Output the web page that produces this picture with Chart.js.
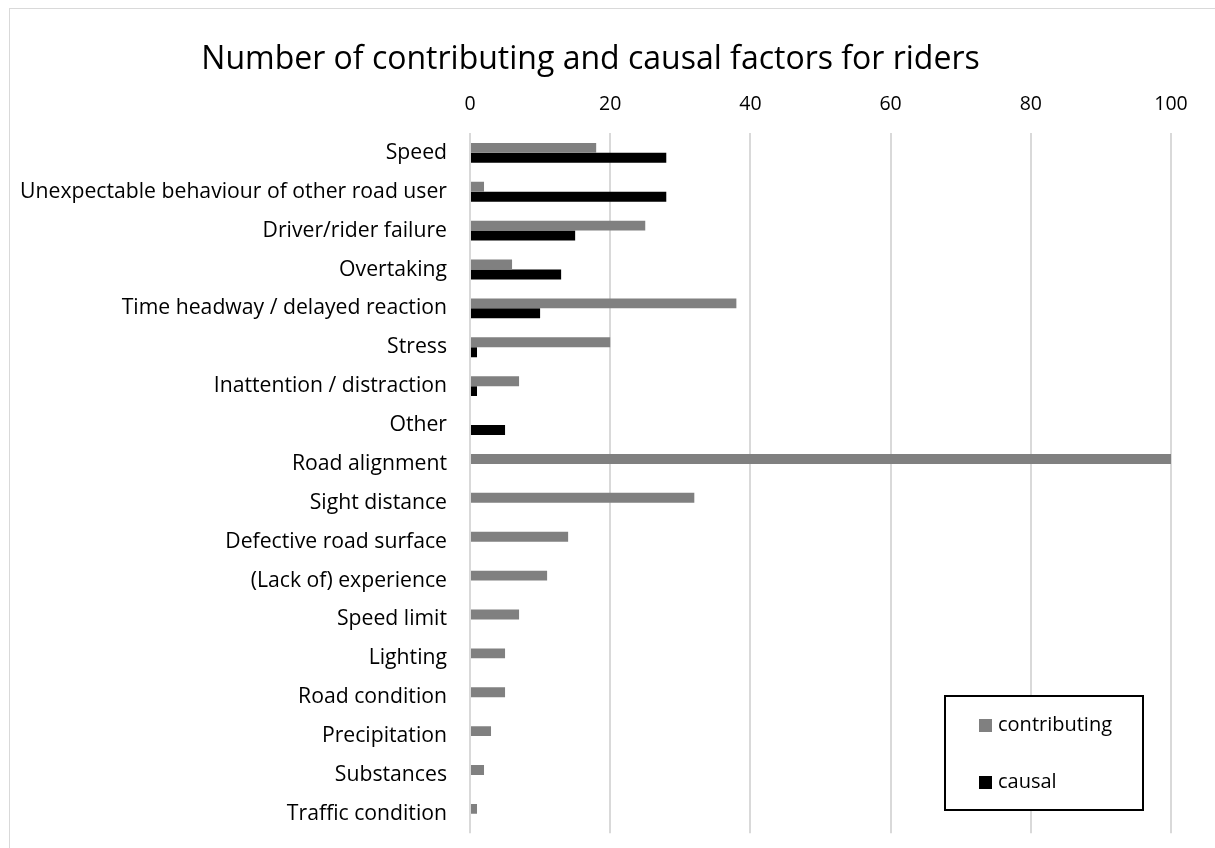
<!doctype html>
<html>

<head>
	<title>Contributing and causal factors for riders</title>
	<script src="https://cdn.jsdelivr.net/npm/chart.js@4/dist/chart.umd.min.js"></script>
	<style>
		html, body {
			margin: 0;
			padding: 0;
			background: #fff;
			overflow: hidden;
		}
		#frame {
			position: absolute;
			left: 9px;
			top: 8px;
			width: 1230px;
			height: 860px;
			border: 1px solid #d9d9d9;
		}
	</style>
</head>

<body>
	<div id="frame">
		<canvas id="canvas" width="1230" height="860"></canvas>
	</div>
	<script>
		const labels = [
			'Speed',
			'Unexpectable behaviour of other road user',
			'Driver/rider failure',
			'Overtaking',
			'Time headway / delayed reaction',
			'Stress',
			'Inattention / distraction',
			'Other',
			'Road alignment',
			'Sight distance',
			'Defective road surface',
			'(Lack of) experience',
			'Speed limit',
			'Lighting',
			'Road condition',
			'Precipitation',
			'Substances',
			'Traffic condition'
		];
		const contributing = [18, 2, 25, 6, 38, 20, 7, 0, 100, 32, 14, 11, 7, 5, 5, 3, 2, 1];
		const causal = [28, 28, 15, 13, 10, 1, 1, 5, 0, 0, 0, 0, 0, 0, 0, 0, 0, 0];
		const xTicks = [0, 20, 40, 60, 80, 100];

		const FONT = '"Open Sans", sans-serif';

		// legend box drawn inside the plot, like the original
		const boxLegend = {
			id: 'boxLegend',
			afterDraw(chart) {
				const ctx = chart.ctx;
				const x = 935, y = 687, w = 198, h = 114;
				ctx.save();
				ctx.fillStyle = '#fff';
				ctx.fillRect(x, y, w, h);
				ctx.strokeStyle = '#000';
				ctx.lineWidth = 2;
				ctx.strokeRect(x, y, w, h);
				ctx.font = '20px ' + FONT;
				ctx.textBaseline = 'middle';
				chart.data.datasets.forEach((ds, i) => {
					const sy = y + 23 + i * 57;
					ctx.fillStyle = ds.backgroundColor;
					ctx.fillRect(x + 34, sy, 13, 13);
					ctx.fillStyle = '#000';
					ctx.fillText(ds.label, x + 53, sy + 6);
				});
				ctx.restore();
			}
		};

		const config = {
			type: 'bar',
			data: {
				labels: labels,
				datasets: [{
					label: 'contributing',
					data: contributing,
					backgroundColor: '#808080'
				}, {
					label: 'causal',
					data: causal,
					backgroundColor: '#000000'
				}]
			},
			options: {
				indexAxis: 'y',
				responsive: false,
				animation: false,
				datasets: {
					bar: {
						categoryPercentage: 0.51,
						barPercentage: 1
					}
				},
				layout: {
					padding: { left: 0, right: 69, top: 0, bottom: 29 }
				},
				scales: {
					x: {
						position: 'top',
						min: 0,
						max: 100,
						afterBuildTicks(scale) {
							scale.ticks = xTicks.map(v => ({ value: v }));
						},
						afterFit(scale) {
							scale.height = 54;
						},
						grid: {
							color: '#d9d9d9',
							lineWidth: 2,
							drawTicks: false
						},
						border: { display: false },
						ticks: {
							padding: 17,
							color: '#000',
							font: { family: FONT, size: 19.5 }
						}
					},
					y: {
						afterFit(scale) {
							scale.width = 460;
						},
						grid: { display: false, drawTicks: false },
						border: { display: false },
						ticks: {
							padding: 23,
							autoSkip: false,
							color: '#000',
							font: { family: FONT, size: 21.2 }
						}
					}
				},
				plugins: {
					legend: { display: false },
					tooltip: { enabled: false },
					title: {
						display: true,
						text: 'Number of contributing and causal factors for riders',
						color: '#000',
						font: { family: FONT, size: 32, weight: 'normal' },
						padding: { top: 32, bottom: 0 }
					}
				}
			},
			plugins: [boxLegend]
		};

		window.onload = function() {
			window.myBar = new Chart(document.getElementById('canvas'), config);
		};
	</script>
</body>

</html>
